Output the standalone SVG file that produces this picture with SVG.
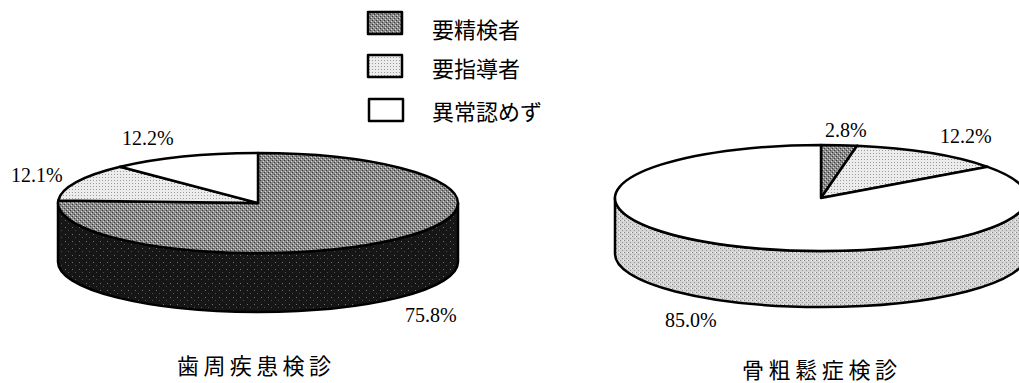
<svg xmlns="http://www.w3.org/2000/svg" width="1019" height="383" viewBox="0 0 1019 383">
<style>
.ol{stroke:#000;stroke-width:2.5;stroke-linejoin:round}
.pct{font-family:"Liberation Serif","Times New Roman",serif;font-size:20px;fill:#000}
.jp{font-family:"Noto Sans CJK JP","Noto Sans",sans-serif;fill:#000}
.leg{font-size:22px}
.ttl{font-size:22px}
</style>
<defs>
<pattern id="pDark" width="4" height="4" patternUnits="userSpaceOnUse">
<rect width="4" height="4" fill="#8a8a8a"/>
<rect x="0" y="0" width="1" height="1" fill="#3a3a3a"/>
<rect x="2" y="2" width="1" height="1" fill="#3a3a3a"/>
<rect x="1" y="3" width="1" height="1" fill="#d8d8d8"/>
<rect x="3" y="1" width="1" height="1" fill="#d8d8d8"/>
</pattern>
<pattern id="pLight" width="3" height="3" patternUnits="userSpaceOnUse">
<rect width="3" height="3" fill="#ececec"/>
<rect x="0" y="0" width="1" height="1" fill="#9a9a9a"/>
</pattern>
<pattern id="pBlack" width="7" height="7" patternUnits="userSpaceOnUse">
<rect width="7" height="7" fill="#161616"/>
<rect x="2" y="3" width="1" height="1" fill="#707070"/>
<rect x="5" y="6" width="1" height="1" fill="#505050"/>
</pattern>
<pattern id="pSide" width="4" height="4" patternUnits="userSpaceOnUse">
<rect width="4" height="4" fill="#d4d4d4"/>
<rect x="0" y="0" width="1" height="1" fill="#888"/>
<rect x="2" y="2" width="1" height="1" fill="#999"/>
<rect x="3" y="0" width="1" height="1" fill="#f4f4f4"/>
</pattern>
</defs>

<g id="legend">
<g id="legend-seiken">
<rect class="ol" x="368" y="12" width="34" height="22" fill="url(#pDark)"/>
<text class="jp leg" x="432" y="38">要精検者</text>
</g>
<g id="legend-shidou">
<rect class="ol" x="368" y="55" width="34" height="22" fill="url(#pLight)"/>
<text class="jp leg" x="432" y="77">要指導者</text>
</g>
<g id="legend-ijou">
<rect class="ol" x="369" y="99" width="34" height="22" fill="#fff"/>
<text class="jp leg" x="432" y="120">異常認めず</text>
</g>
</g>

<g id="pie-shishu">
<path class="ol" fill="url(#pBlack)" d="M58,203 A200,50 0 0 0 458,203 L458,262 A200,50 0 0 1 58,262 Z"/>
<path id="slice-shishu-seiken" class="ol" fill="url(#pDark)" d="M258,203 L258,153 A200,50 0 1 1 58.25,200.49 Z"/>
<path id="slice-shishu-shidou" class="ol" fill="url(#pLight)" d="M258,203 L58.25,200.49 A200,50 0 0 1 120.2,166.76 Z"/>
<path id="slice-shishu-ijou" class="ol" fill="#fff" d="M258,203 L120.2,166.76 A200,50 0 0 1 258,153 Z"/>
<text class="pct" x="122" y="145">12.2%</text>
<text class="pct" x="11" y="182">12.1%</text>
<text class="pct" x="405" y="322">75.8%</text>
<text class="jp ttl" x="177" y="374" textLength="154" lengthAdjust="spacing">歯周疾患検診</text>
</g>

<g id="pie-kotsu">
<path class="ol" fill="url(#pSide)" d="M615,198 A206,53 0 0 0 1027,198 L1027,254 A206,53 0 0 1 615,254 Z"/>
<path id="slice-kotsu-seiken" class="ol" fill="url(#pDark)" d="M821,198 L821,145 A206,53 0 0 1 857.05,145.82 Z"/>
<path id="slice-kotsu-shidou" class="ol" fill="url(#pLight)" d="M821,198 L857.05,145.82 A206,53 0 0 1 987.66,166.85 Z"/>
<path id="slice-kotsu-ijou" class="ol" fill="#fff" d="M821,198 L987.66,166.85 A206,53 0 1 1 821,145 Z"/>
<text class="pct" x="825" y="137">2.8%</text>
<text class="pct" x="940" y="143">12.2%</text>
<text class="pct" x="665" y="327">85.0%</text>
<text class="jp ttl" x="742" y="378" textLength="155" lengthAdjust="spacing">骨粗鬆症検診</text>
</g>
</svg>
